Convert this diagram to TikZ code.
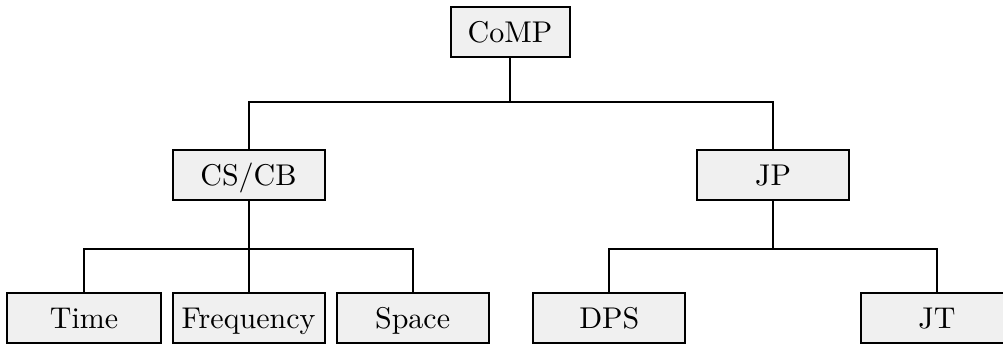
\documentclass[tikz,border=0pt]{standalone}
\usepackage{graphicx}
% labels are set at 10pt and enlarged three times
\newcommand{\boxtext}[1]{\scalebox{3}{#1}}
\begin{document}
\begin{tikzpicture}[x=1pt,y=-1pt,
  box/.style={draw=black, fill=gray!12, line width=2pt, rectangle,
    inner sep=0pt, minimum width=152pt, minimum height=50pt,
    text height=21pt, text depth=0pt, font=\normalsize},
  link/.style={draw=black, line width=2pt}]
\useasboundingbox (0,0) rectangle (1003,345);
% tree levels
\node[box, minimum width=119pt] (comp) at (510,31.7) {\boxtext{CoMP}};
\node[box] (cscb) at (248.5,174.7) {\boxtext{CS/CB}};
\node[box] (jp)   at (773,174.7)   {\boxtext{JP}};
\node[box, minimum width=154pt] (time) at (84,317.7) {\boxtext{Time}};
\node[box] (freq)  at (248.5,317.7) {\boxtext{Frequency}};
\node[box] (space) at (412.6,317.7) {\boxtext{Space}};
\node[box] (dps)   at (609.3,317.7) {\boxtext{DPS}};
\node[box] (jt)    at (937,317.7)   {\boxtext{JT}};
% branch points
\coordinate (b0) at (510,102);
\coordinate (b1) at (248.5,249);
\coordinate (b2) at (773,249);
% connectors
\draw[link] (comp.south) -- (b0);
\draw[link] (b0) -| (cscb.north);
\draw[link] (b0) -| (jp.north);
\draw[link] (cscb.south) -- (b1);
\draw[link] (b1) -| (time.north);
\draw[link] (b1) -- (freq.north);
\draw[link] (b1) -| (space.north);
\draw[link] (jp.south) -- (b2);
\draw[link] (b2) -| (dps.north);
\draw[link] (b2) -| (jt.north);
\end{tikzpicture}
\end{document}
